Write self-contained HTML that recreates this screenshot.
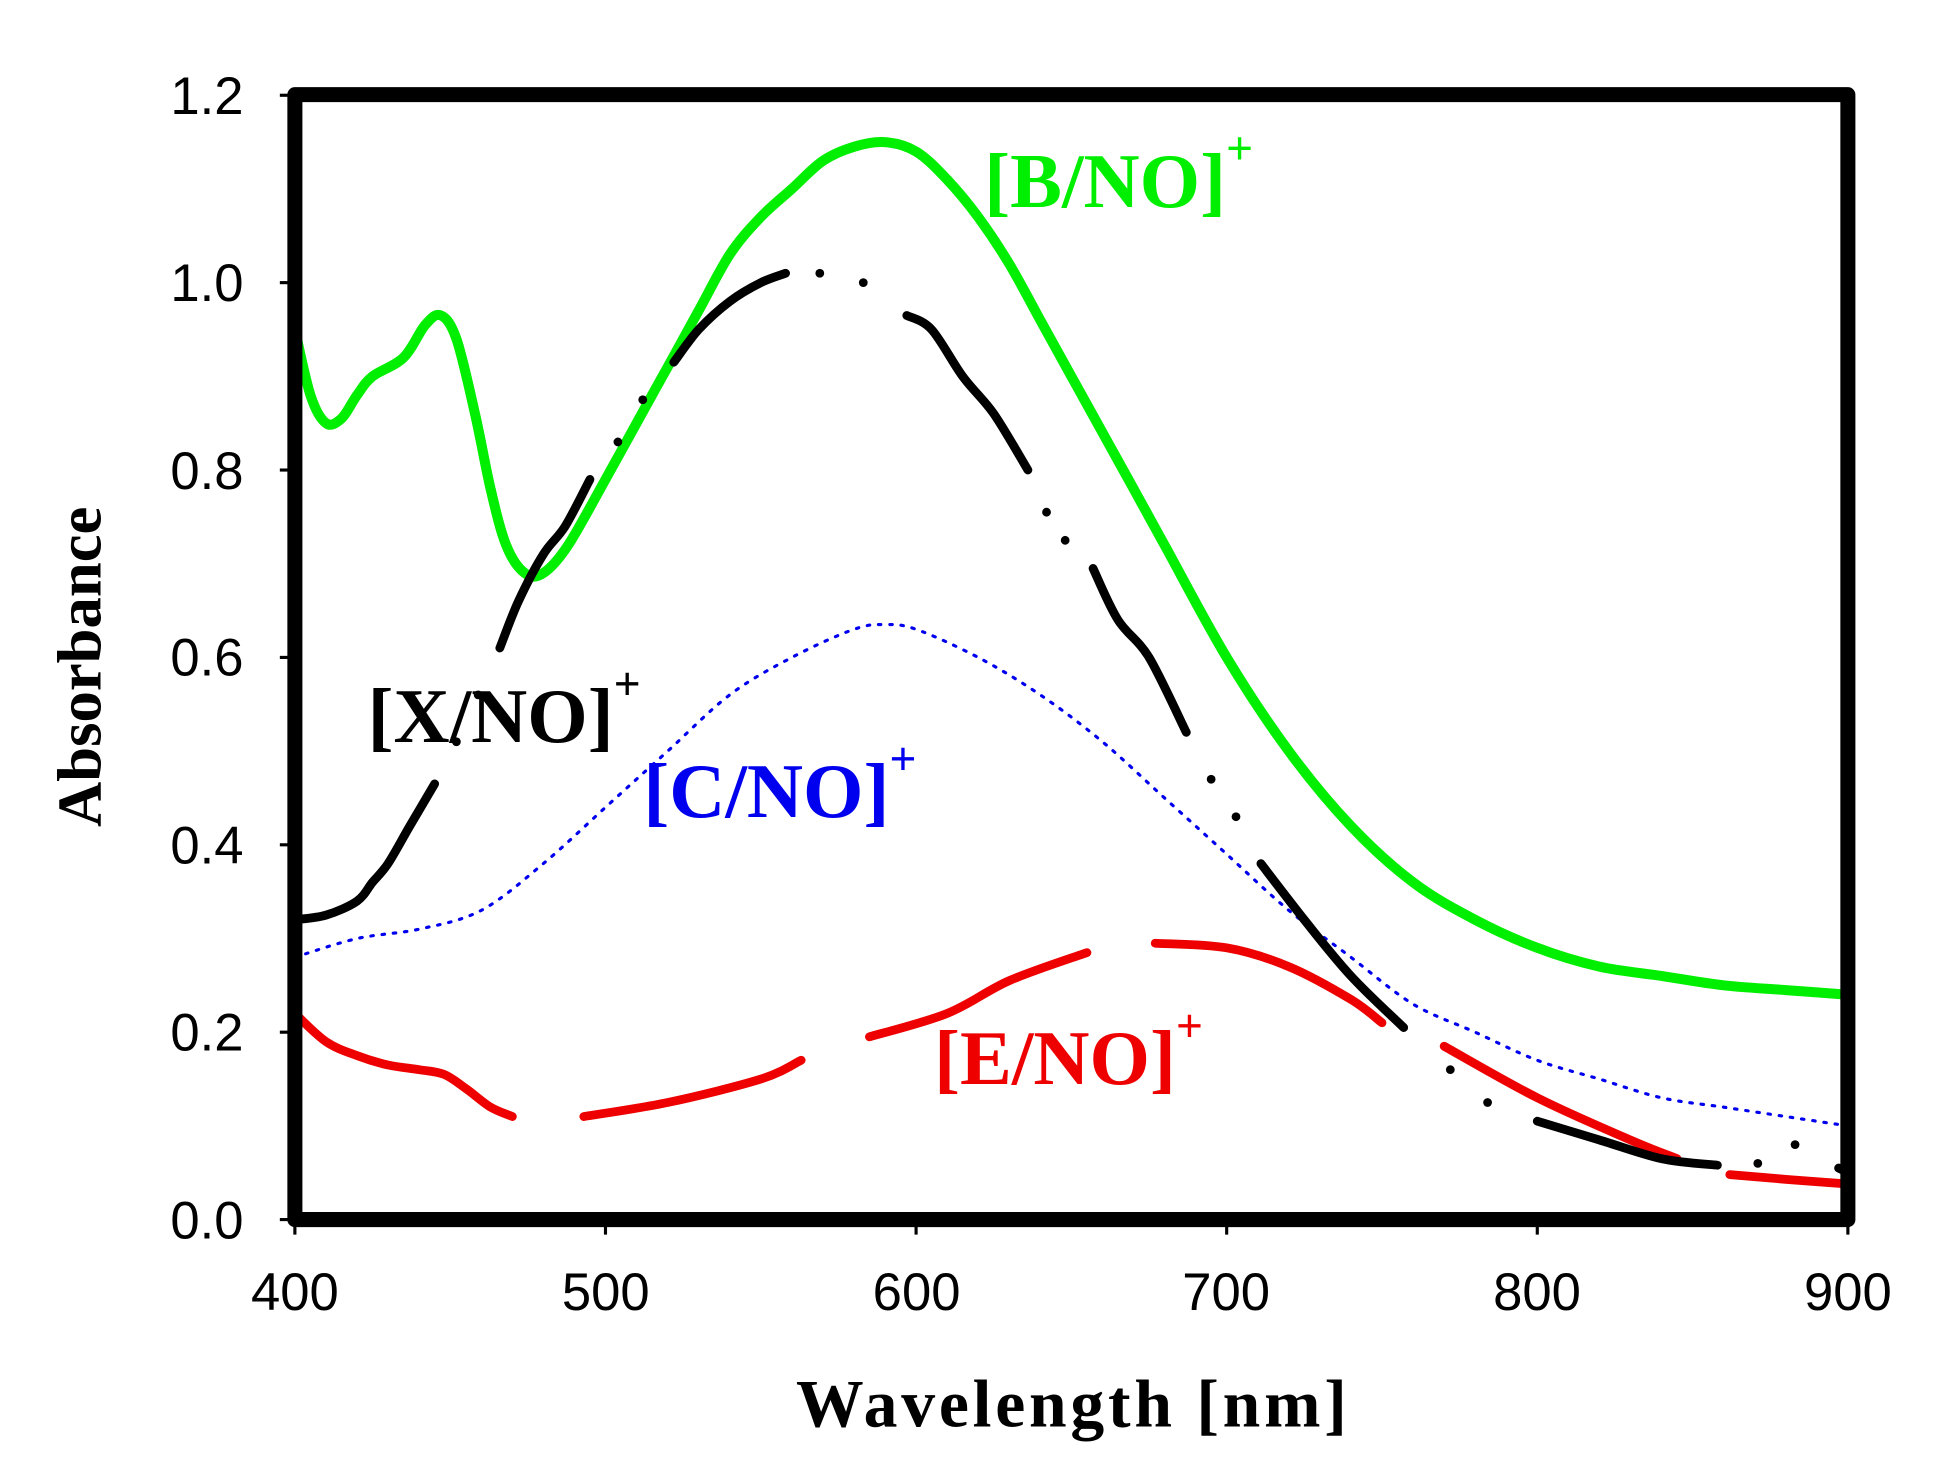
<!DOCTYPE html>
<html><head><meta charset="utf-8"><style>
html,body{margin:0;padding:0;background:#fff;}
svg{display:block;}
</style></head><body>
<svg id="s" xmlns="http://www.w3.org/2000/svg" width="1956" height="1464" viewBox="0 0 1560 1168">
<rect width="1560" height="1168" fill="#fff"/>
<g id="series"></g>
<rect x="235" y="75.5" width="1239" height="897.5" fill="none" stroke="#000" stroke-width="12" stroke-linejoin="round"/>
<g id="ticks" stroke="#000" stroke-width="2.5"></g>
<g font-family="Liberation Sans, Arial, sans-serif" font-size="42" fill="#000">
<g text-anchor="end">
<text x="194" y="988">0.0</text><text x="194" y="838">0.2</text><text x="194" y="689">0.4</text>
<text x="194" y="539">0.6</text><text x="194" y="390">0.8</text><text x="194" y="240">1.0</text><text x="194" y="91">1.2</text>
</g>
<g text-anchor="middle">
<text x="235" y="1045">400</text><text x="483" y="1045">500</text><text x="731" y="1045">600</text>
<text x="978" y="1045">700</text><text x="1226" y="1045">800</text><text x="1474" y="1045">900</text>
</g>
</g>
<g font-family="Liberation Serif, 'Times New Roman', serif" font-weight="bold">
<text x="856" y="1138" font-size="54" text-anchor="middle" letter-spacing="3">Wavelength [nm]</text>
<text transform="translate(80,532) rotate(-90)" font-size="50" text-anchor="middle">Absorbance</text>
<text x="785" y="165" font-size="62" fill="#00ee00">[B/NO]<tspan dy="-34" font-size="38">+</tspan></text>
<text x="293" y="592" font-size="62" fill="#000">[X/NO]<tspan dy="-34" font-size="38">+</tspan></text>
<text x="513" y="652" font-size="62" fill="#0000ee">[C/NO]<tspan dy="-34" font-size="38">+</tspan></text>
<text x="745" y="865" font-size="62" fill="#ee0000">[E/NO]<tspan dy="-34" font-size="38">+</tspan></text>
</g>
</svg>
<script>
const px=w=>235+(w-400)*2.478, py=a=>973-a*747.5;
const g=document.getElementById('series');
function path(pts,color,w,dash){
  const P=pts.map(p=>[px(p[0]),py(p[1])]);
  let d='M'+P[0][0].toFixed(1)+' '+P[0][1].toFixed(1);
  for(let i=0;i<P.length-1;i++){
    const p0=P[i-1]||P[i],p1=P[i],p2=P[i+1],p3=P[i+2]||P[i+1];
    const c1=[p1[0]+(p2[0]-p0[0])/6,p1[1]+(p2[1]-p0[1])/6];
    const c2=[p2[0]-(p3[0]-p1[0])/6,p2[1]-(p3[1]-p1[1])/6];
    d+=` C${c1[0].toFixed(1)} ${c1[1].toFixed(1)} ${c2[0].toFixed(1)} ${c2[1].toFixed(1)} ${p2[0].toFixed(1)} ${p2[1].toFixed(1)}`;
  }
  let e=document.createElementNS('http://www.w3.org/2000/svg','path');
  e.setAttribute('d',d);e.setAttribute('fill','none');e.setAttribute('stroke',color);
  e.setAttribute('stroke-width',w);e.setAttribute('stroke-linecap','round');e.setAttribute('stroke-linejoin','round');
  if(dash)e.setAttribute('stroke-dasharray',dash);
  g.appendChild(e);
}
function dot(w,a,color){
  let e=document.createElementNS('http://www.w3.org/2000/svg','circle');
  e.setAttribute('cx',px(w));e.setAttribute('cy',py(a));e.setAttribute('r',3.5);e.setAttribute('fill',color);g.appendChild(e);
}
path([[400,0.28],[420,0.3],[440,0.31],[460,0.33],[480,0.38],[500,0.44],[520,0.5],[540,0.56],[560,0.6],[580,0.63],[590,0.635],[600,0.63],[620,0.6],[640,0.56],[660,0.51],[680,0.45],[700,0.39],[720,0.33],[740,0.28],[760,0.23],[780,0.2],[800,0.17],[820,0.15],[840,0.13],[860,0.12],[880,0.11],[900,0.1]],'#0000ee',2.5,'2 7');
path([[400,0.95],[405,0.88],[410,0.85],[415,0.855],[420,0.88],[425,0.9],[435,0.92],[442,0.955],[447,0.965],[452,0.94],[458,0.86],[463,0.78],[468,0.72],[474,0.69],[480,0.69],[488,0.72],[500,0.79],[510,0.85],[520,0.91],[530,0.97],[540,1.03],[550,1.07],[560,1.1],[570,1.13],[580,1.145],[590,1.15],[600,1.14],[610,1.11],[620,1.07],[630,1.02],[640,0.96],[650,0.9],[660,0.84],[670,0.78],[680,0.72],[700,0.6],[720,0.5],[740,0.42],[760,0.36],[780,0.32],[800,0.29],[820,0.27],[840,0.26],[860,0.25],[880,0.245],[900,0.24]],'#00ee00',8);
const R='#ee0000';
path([[400,0.22],[410,0.19],[420,0.175],[430,0.165],[440,0.16],[448,0.155],[455,0.14],[463,0.12],[470,0.11]],R,7);
path([[493,0.11],[520,0.125],[550,0.15],[563,0.17]],R,7);
path([[585,0.195],[610,0.22],[630,0.255],[655,0.285]],R,7);
path([[677,0.295],[700,0.29],[720,0.27],[740,0.235],[750,0.21]],R,7);
path([[770,0.185],[800,0.13],[830,0.085],[845,0.065]],R,7);
path([[862,0.048],[880,0.043],[900,0.038]],R,7);
const K='#000';
path([[400,0.32],[410,0.325],[420,0.34],[425,0.36],[430,0.38],[437,0.42],[445,0.465]],K,7);
path([[466,0.61],[472,0.66],[480,0.71],[487,0.74],[495,0.79]],K,7);
path([[522,0.915],[530,0.95],[540,0.98],[550,1.0],[558,1.01]],K,7);
path([[597,0.965],[605,0.95],[615,0.9],[625,0.86],[636,0.8]],K,7);
path([[657,0.695],[665,0.64],[675,0.6],[687,0.52]],K,7);
path([[711,0.38],[725,0.32],[740,0.26],[757,0.205]],K,7);
path([[800,0.105],[820,0.085],[840,0.065],[858,0.058]],K,7);
path([[897,0.055],[900,0.05]],K,7);
[[452,0.51],[459,0.56],[504,0.83],[512,0.875],[569,1.01],[583,1.0],[642,0.755],[648,0.725],[695,0.47],[703,0.43],[772,0.16],[784,0.125],[871,0.06],[883,0.08]].forEach(p=>dot(p[0],p[1],K));
const t=document.getElementById('ticks');
let s='';
for(let i=0;i<=5;i++){let x=px(400+i*100);s+=`<line x1="${x}" y1="973" x2="${x}" y2="985"/>`;}
for(let i=0;i<=6;i++){let y=py(i*0.2);s+=`<line x1="223" y1="${y}" x2="235" y2="${y}"/>`;}
t.innerHTML=s;
</script>
</body></html>
